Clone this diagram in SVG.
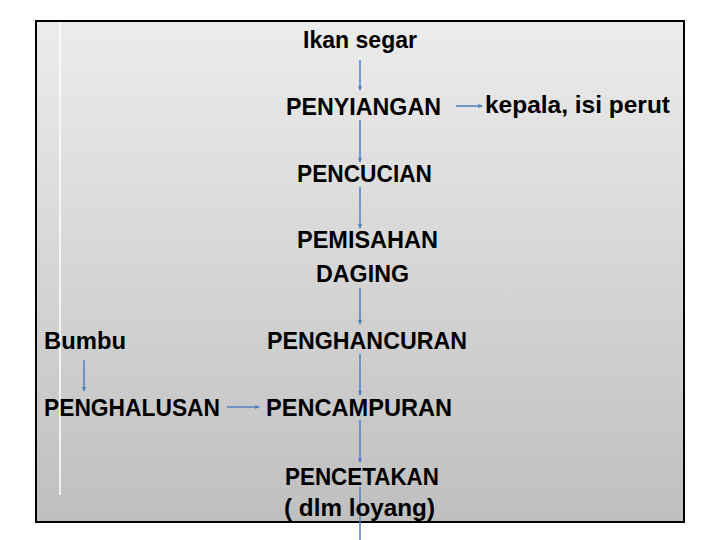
<svg xmlns="http://www.w3.org/2000/svg" width="720" height="540" viewBox="0 0 720 540">
<defs>
<linearGradient id="bg" x1="0" y1="0" x2="0" y2="1">
<stop offset="0" stop-color="#ececec"/>
<stop offset="1" stop-color="#bfbfbf"/>
</linearGradient>
<marker id="ah" markerWidth="5" markerHeight="5" refX="4" refY="2.5" orient="auto" markerUnits="userSpaceOnUse">
<path d="M0,0.5 L5,2.5 L0,4.5 Z" fill="#4f81bd"/>
</marker>
<style>
text{font-family:"Liberation Sans",Arial,sans-serif;font-weight:bold;font-size:24px;fill:#000;text-anchor:middle}
.c{stroke:#4f81bd;stroke-width:1.5;fill:none;marker-end:url(#ah)}
.s{text-anchor:start}
</style>
</defs>
<rect width="720" height="540" fill="#fff"/>
<rect x="36" y="21" width="648" height="501" fill="url(#bg)" stroke="#000" stroke-width="2"/>
<line x1="60" y1="22" x2="60" y2="495" stroke="#fff" stroke-width="1.5"/>
<g id="connectors">
<line class="c" x1="360" y1="60" x2="360" y2="90"/>
<line class="c" x1="456" y1="106" x2="482" y2="106"/>
<line class="c" x1="360" y1="120" x2="360" y2="162"/>
<line class="c" x1="360" y1="187" x2="360" y2="228"/>
<line class="c" x1="360" y1="288" x2="360" y2="324"/>
<line class="c" x1="360" y1="354" x2="360" y2="395"/>
<line class="c" x1="360" y1="420" x2="360" y2="462"/>
<line x1="360" y1="487" x2="360" y2="540" stroke="#4f81bd" stroke-width="1.5"/>
<line class="c" x1="84" y1="360" x2="84" y2="391"/>
<line class="c" x1="227" y1="407" x2="259" y2="407"/>
</g>
<g id="n-ikan"><text x="360" y="48" textLength="114" lengthAdjust="spacingAndGlyphs">Ikan segar</text></g>
<g id="n-penyiangan"><text x="363.5" y="115" textLength="155" lengthAdjust="spacingAndGlyphs">PENYIANGAN</text></g>
<g id="n-kepala"><text x="577.5" y="113" textLength="185" lengthAdjust="spacingAndGlyphs">kepala, isi perut</text></g>
<g id="n-pencucian"><text x="364.5" y="182" textLength="135" lengthAdjust="spacingAndGlyphs">PENCUCIAN</text></g>
<g id="n-pemisahan"><text x="367.5" y="248" textLength="141" lengthAdjust="spacingAndGlyphs">PEMISAHAN</text><text x="362.5" y="282" textLength="93" lengthAdjust="spacingAndGlyphs">DAGING</text></g>
<g id="n-bumbu"><text class="s" x="44" y="349" textLength="82" lengthAdjust="spacingAndGlyphs">Bumbu</text></g>
<g id="n-penghancuran"><text x="367" y="349" textLength="200" lengthAdjust="spacingAndGlyphs">PENGHANCURAN</text></g>
<g id="n-penghalusan"><text x="132" y="416" textLength="176" lengthAdjust="spacingAndGlyphs">PENGHALUSAN</text></g>
<g id="n-pencampuran"><text x="359" y="416" textLength="186" lengthAdjust="spacingAndGlyphs">PENCAMPURAN</text></g>
<g id="n-pencetakan"><text x="362" y="485" textLength="154" lengthAdjust="spacingAndGlyphs">PENCETAKAN</text><text x="359.5" y="516" textLength="151" lengthAdjust="spacingAndGlyphs">( dlm loyang)</text></g>
</svg>
